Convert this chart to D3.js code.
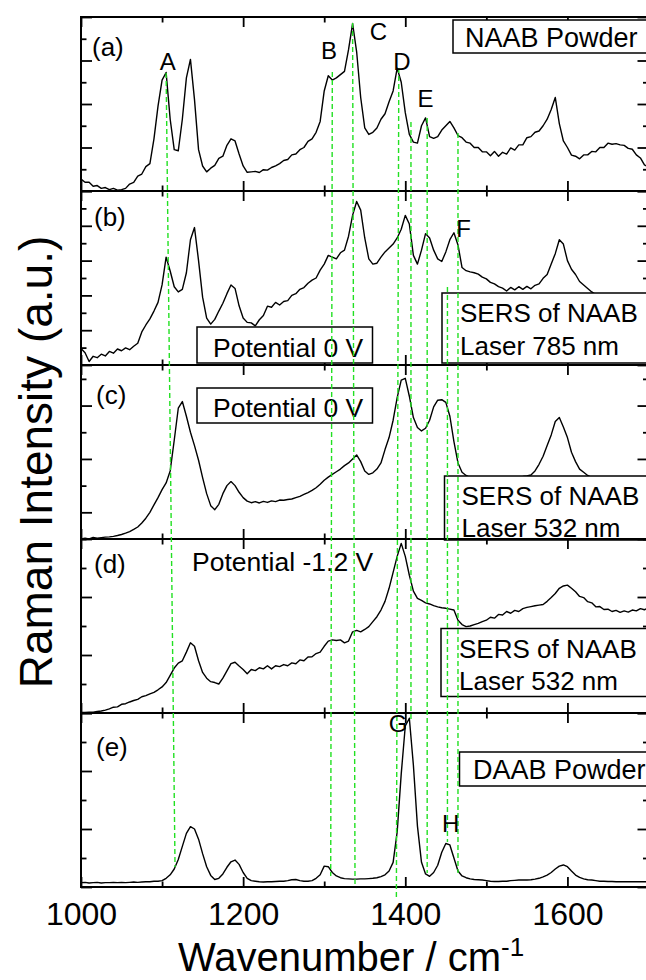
<!DOCTYPE html>
<html>
<head>
<meta charset="utf-8">
<script src="https://d3js.org/d3.v7.min.js"></script>
<style>
  body { margin: 0; background: #fff; }
  svg text { font-family: "Liberation Sans", Arial, Helvetica, sans-serif; fill: #000; }
</style>
</head>
<body>
<div id="chart"></div>
<script>
// wavenumber grid (cm-1), one value every 5 cm-1
var wavenumbers = d3.range(1000, 1701, 5);

// (a) NAAB powder
var naabPowder = [
  0.55, 0.4, 0.4, 0.22, 0.25, 0.12, 0.16, 0.06, 0.12, 0.04,
  0.06, 0.12, 0.32, 0.4, 0.68, 0.78, 1.12, 1.26, 2.4, 3.9,
  5.1, 5.45, 3.3, 1.9, 1.85, 3.3, 5.2, 6.05, 4.2, 1.9,
  1.15, 0.88, 1.05, 1.18, 1.5, 1.6, 2.1, 2.4, 2.3, 1.7,
  1.15, 0.86, 0.88, 0.9, 0.85, 0.98, 0.96, 1.08, 1.16, 1.26,
  1.4, 1.45, 1.66, 1.7, 1.9, 2.0, 2.28, 2.4, 2.7, 3.2,
  4.6, 5.3, 5.1, 5.2, 5.35, 5.5, 6.5, 7.7, 6.4, 4.3,
  2.9, 2.6, 2.7, 2.9, 3.3, 3.55, 4.1, 4.6, 5.65, 5.0,
  3.6, 2.6, 2.25, 2.2, 3.0, 3.36, 2.5, 2.42, 2.5, 2.8,
  3.0, 3.2, 2.9, 2.55, 2.45, 2.25, 2.2, 2.0, 2.0, 1.8,
  1.8, 1.62, 1.82, 1.6, 1.78, 1.7, 1.98, 1.88, 2.12, 2.12,
  2.45, 2.5, 2.7, 2.76, 3.0, 3.3, 3.75, 4.3, 3.1, 2.3,
  2.0, 1.65, 1.6, 1.48, 1.66, 1.66, 1.82, 1.8, 2.0, 2.0,
  2.2, 2.15, 2.18, 2.12, 2.1, 1.96, 1.92, 1.66, 1.52, 1.2,
  1.1
];

// (b) SERS of NAAB, 785 nm, 0 V (recorded up to 1635 cm-1)
var sers785 = [
  0.95, 0.7, 0.2, 0.5, 0.42, 0.62, 0.52, 0.78, 0.68, 0.92,
  0.82, 0.98, 0.88, 1.08, 1.25, 1.9, 2.3, 2.65, 3.1, 3.6,
  4.6, 6.2, 5.4, 4.5, 4.2, 4.35, 5.3, 7.2, 7.9, 6.0,
  3.9, 2.7, 2.35, 2.62, 3.1, 3.55, 4.1, 4.6, 4.4, 3.4,
  2.7, 2.45, 2.42, 2.25, 2.6, 2.85, 3.38, 3.32, 3.6, 3.45,
  3.65, 3.7, 4.0, 4.1, 4.35, 4.45, 4.7, 4.88, 5.0, 5.45,
  5.8, 6.3, 6.2, 6.1, 6.45, 6.6, 7.4, 8.6, 9.4, 8.9,
  7.3, 6.1, 5.8, 5.85, 6.2, 6.5, 6.72, 6.95, 7.3, 7.8,
  8.6, 8.1, 6.3, 5.8, 6.6, 7.55, 7.3, 6.6, 6.1, 5.95,
  6.5, 7.2, 7.6, 6.9, 5.6, 5.42, 5.35, 5.3, 5.22, 5.05,
  4.95, 4.75, 4.66, 4.5, 4.42, 4.25, 4.46, 4.32, 4.5, 4.35,
  4.52, 4.38, 4.58, 4.66, 4.98, 5.2, 5.8, 6.4, 7.2, 6.95,
  6.0, 5.5, 5.2, 4.8, 4.6, 4.4, 4.2, 4.05
];

// (c) SERS of NAAB, 532 nm, 0 V
var sers532ZeroV = [
  1.0, 1.03, 1.0, 1.06, 1.03, 1.05, 1.07, 1.08, 1.1, 1.13,
  1.17, 1.22, 1.28, 1.36, 1.45, 1.6, 1.78, 2.0, 2.28, 2.55,
  2.85, 3.1, 3.55, 4.7, 5.9, 6.15, 5.6, 5.0, 4.5, 3.95,
  3.3, 2.7, 2.25, 2.1, 2.3, 2.7, 3.0, 3.15, 3.0, 2.75,
  2.55, 2.42, 2.36, 2.4, 2.35, 2.41, 2.37, 2.43, 2.4, 2.46,
  2.45, 2.48, 2.5, 2.55, 2.6, 2.67, 2.74, 2.82, 2.92, 3.05,
  3.2, 3.32, 3.42, 3.52, 3.62, 3.75, 3.85, 4.0, 4.15, 3.9,
  3.55, 3.42, 3.48, 3.62, 3.85, 4.35, 4.8, 5.45, 6.3, 6.95,
  7.02, 6.35, 5.55, 5.18, 5.05, 5.15, 5.45, 5.95, 6.2, 6.22,
  6.12, 5.6, 4.65, 3.85, 3.5, 3.38, 3.3, 3.25, 3.2, 3.18,
  3.15, 3.12, 3.1, 3.1, 3.12, 3.15, 3.2, 3.25, 3.3, 3.34,
  3.36, 3.4, 3.55, 3.8, 4.1, 4.5, 4.9, 5.4, 5.55, 5.2,
  4.8, 4.25, 3.9, 3.62, 3.5, 3.38, 3.3, 3.22, 3.18, 3.15,
  3.12, 3.1, 3.08, 3.05, 3.05, 3.02, 3.0, 3.0, 2.98, 2.97,
  2.95
];

// (d) SERS of NAAB, 532 nm, -1.2 V
var sers532MinusV = [
  0.02, 0.02, 0.03, 0.03, 0.05, 0.07, 0.1, 0.14, 0.2, 0.21,
  0.3, 0.32, 0.38, 0.43, 0.47, 0.56, 0.6, 0.66, 0.71, 0.8,
  0.9, 1.05, 1.3, 1.55, 1.72, 1.8, 2.1, 2.42, 2.3, 1.8,
  1.4, 1.2, 1.08, 1.05, 1.0, 1.2, 1.45, 1.7, 1.75, 1.62,
  1.5, 1.35, 1.5, 1.46, 1.56, 1.52, 1.63, 1.52, 1.63, 1.6,
  1.67, 1.63, 1.73, 1.7, 1.83, 1.8, 1.93, 1.94, 2.05, 2.1,
  2.3, 2.48, 2.52, 2.5, 2.52, 2.42, 2.48, 2.8, 2.85, 2.8,
  2.88, 2.98, 3.15, 3.32, 3.55, 3.85, 4.3, 4.85, 5.4, 5.85,
  5.4, 4.75, 4.2, 3.95, 3.88, 3.8, 3.76, 3.7, 3.66, 3.63,
  3.61, 3.58, 3.55, 3.2, 3.05, 2.98, 3.0, 3.05, 3.09, 3.15,
  3.2, 3.3, 3.27, 3.4, 3.38, 3.5, 3.44, 3.54, 3.5, 3.6,
  3.64, 3.67, 3.7, 3.72, 3.74, 3.85, 3.98, 4.12, 4.3, 4.38,
  4.41, 4.3, 4.18, 4.02, 3.98, 3.84, 3.8, 3.66, 3.67, 3.57,
  3.58, 3.5, 3.54, 3.47, 3.52, 3.48, 3.55, 3.52, 3.6, 3.56,
  3.62
];

// (e) DAAB powder
var daabPowder = [
  0.15, 0.16, 0.14, 0.15, 0.16, 0.14, 0.15, 0.15, 0.16, 0.15,
  0.16, 0.15, 0.16, 0.17, 0.16, 0.17, 0.18, 0.18, 0.2, 0.2,
  0.22, 0.3, 0.42, 0.62, 0.95, 1.4, 1.85, 2.08, 2.0, 1.65,
  1.15, 0.7, 0.4, 0.26, 0.3, 0.45, 0.68, 0.87, 0.93, 0.78,
  0.5, 0.3, 0.22, 0.2, 0.18, 0.17, 0.18, 0.18, 0.19, 0.2,
  0.2, 0.22, 0.25, 0.26, 0.22, 0.2, 0.2, 0.22, 0.3, 0.42,
  0.72, 0.7, 0.5, 0.38, 0.32, 0.29, 0.28, 0.27, 0.27, 0.28,
  0.28, 0.29, 0.3, 0.32, 0.36, 0.42, 0.55, 0.85, 1.9, 3.9,
  5.55, 5.82, 4.2, 2.1, 0.85, 0.45, 0.37, 0.5, 0.75, 1.2,
  1.5, 1.45, 1.0, 0.55, 0.38, 0.32, 0.28, 0.26, 0.25, 0.24,
  0.22, 0.2, 0.19, 0.19, 0.2, 0.2, 0.22, 0.23, 0.24, 0.24,
  0.24, 0.25, 0.27, 0.3, 0.35, 0.41, 0.5, 0.62, 0.72, 0.76,
  0.7, 0.55, 0.41, 0.33, 0.28, 0.25, 0.24, 0.22, 0.2, 0.2,
  0.19, 0.19, 0.18, 0.18, 0.18, 0.18, 0.18, 0.18, 0.18, 0.18,
  0.18
];

var panelSeries = [naabPowder, sers785, sers532ZeroV, sers532MinusV, daabPowder];
var panelTags = ["(a)", "(b)", "(c)", "(d)", "(e)"];
var panelYDomains = [[0, 8], [0, 10], [1, 7.52], [0, 6], [0, 6]];
var xTickLabels = [1000, 1200, 1400, 1600];
var xMinorTicks = [1100, 1300, 1500, 1700];

// peak letters: wavenumber and height in the stack (0 = bottom of (e), 5 = top of (a))
var peakNames = ["A", "B", "C", "D", "E", "F", "G", "H"];
var peakLabelWn = [1107, 1306, 1367, 1396, 1425, 1472, 1391, 1456];
var peakLabelLevel = [4.695, 4.759, 4.868, 4.695, 4.483, 3.736, 0.891, 0.316];

// green dashed guide lines
var guideTopWn = [1105, 1310, 1335, 1392, 1407, 1427, 1452, 1465];
var guideBottomWn = [1116, 1308, 1338, 1389, 1407, 1427, 1452, 1465];
var guideTopLevel = [4.678, 4.684, 4.966, 4.707, 4.397, 4.42, 3.448, 4.333];
var guideBottomLevel = [0.115, 0.063, 0, -0.075, 0.96, 0.08, 0.259, 0.08];

var width = 646, height = 980;
var plotLeft = 81, plotRight = 648.5, plotTop = 17, panelHeight = 174;

var svg = d3
  .select("#chart")
  .append("svg")
  .attr("width", width)
  .attr("height", height);

var x = d3.scaleLinear().domain([1000, 1700]).range([plotLeft, plotRight]);
var level = d3
  .scaleLinear()
  .domain([0, 5])
  .range([plotTop + 5 * panelHeight, plotTop]);

// boxed notes inside panels
var boxes = [
  { x: 453, y: 20, w: 200, h: 33, tx: 465, ty: [47], size: 27, lines: ["NAAB Powder"] },
  { x: 197, y: 327, w: 175.5, h: 36, tx: 213, ty: [357], size: 26.5, lines: ["Potential 0 V"] },
  { x: 442, y: 293, w: 215, h: 70, tx: 460, ty: [321.5, 355], size: 26, lines: ["SERS of NAAB", "Laser 785 nm"] },
  { x: 197, y: 388, w: 175.5, h: 35, tx: 213, ty: [416.5], size: 26.5, lines: ["Potential 0 V"] },
  { x: 444.5, y: 476, w: 215, h: 64, tx: 461.5, ty: [505, 537], size: 26, lines: ["SERS of NAAB", "Laser 532 nm"] },
  { x: 441, y: 628.5, w: 215, h: 68, tx: 459, ty: [658, 690], size: 26, lines: ["SERS of NAAB", "Laser 532 nm"] },
  { x: 459.5, y: 752, w: 200, h: 34, tx: 473, ty: [779], size: 27, lines: ["DAAB Powder"] }
];
var tagBaselines = [56, 226, 404, 573, 756];
var tagX = [92, 94, 96, 94, 96];

function dropDomain(g) {
  g.select(".domain").remove();
  g.selectAll(".tick line").attr("stroke", "#000").attr("stroke-width", 1.8);
}

panelSeries.forEach(function (series, i) {
  var top = plotTop + i * panelHeight;
  var bottom = top + panelHeight;
  var y = d3.scaleLinear().domain(panelYDomains[i]).range([bottom, top]);
  var g = svg.append("g");

  g.append("clipPath")
    .attr("id", "clip" + i)
    .append("rect")
    .attr("x", plotLeft)
    .attr("y", top)
    .attr("width", plotRight - plotLeft)
    .attr("height", panelHeight);

  var line = d3
    .line()
    .x(function (d, j) { return x(wavenumbers[j]); })
    .y(function (d) { return y(d); });

  g.append("path")
    .datum(series)
    .attr("clip-path", "url(#clip" + i + ")")
    .attr("d", line)
    .attr("fill", "none")
    .attr("stroke", "#000")
    .attr("stroke-width", 1.4)
    .attr("stroke-linejoin", "round");

  // y ticks, every unit; even units long
  var yMajor = [], yMinor = [];
  var dom = panelYDomains[i];
  for (var v = Math.ceil(dom[0]); v <= Math.floor(dom[1]); v++) {
    if (v % 2 === 0) yMajor.push(v); else yMinor.push(v);
  }
  g.append("g")
    .attr("transform", "translate(" + plotLeft + ",0)")
    .call(d3.axisRight(y).tickValues(yMajor).tickSize(11).tickSizeOuter(0).tickFormat(""))
    .call(dropDomain);
  g.append("g")
    .attr("transform", "translate(" + plotLeft + ",0)")
    .call(d3.axisRight(y).tickValues(yMinor).tickSize(5.5).tickSizeOuter(0).tickFormat(""))
    .call(dropDomain);
  g.append("g")
    .attr("transform", "translate(" + plotRight + ",0)")
    .call(d3.axisLeft(y).tickValues(yMajor).tickSize(11).tickSizeOuter(0).tickFormat(""))
    .call(dropDomain);
  g.append("g")
    .attr("transform", "translate(" + plotRight + ",0)")
    .call(d3.axisLeft(y).tickValues(yMinor).tickSize(5.5).tickSizeOuter(0).tickFormat(""))
    .call(dropDomain);

  // x ticks on top and bottom edges, pointing inward
  g.append("g")
    .attr("transform", "translate(0," + bottom + ")")
    .call(d3.axisTop(x).tickValues(xTickLabels).tickSize(10).tickSizeOuter(0).tickFormat(""))
    .call(dropDomain);
  g.append("g")
    .attr("transform", "translate(0," + bottom + ")")
    .call(d3.axisTop(x).tickValues(xMinorTicks).tickSize(5.5).tickSizeOuter(0).tickFormat(""))
    .call(dropDomain);
  g.append("g")
    .attr("transform", "translate(0," + top + ")")
    .call(d3.axisBottom(x).tickValues(xTickLabels).tickSize(10).tickSizeOuter(0).tickFormat(""))
    .call(dropDomain);
  g.append("g")
    .attr("transform", "translate(0," + top + ")")
    .call(d3.axisBottom(x).tickValues(xMinorTicks).tickSize(5.5).tickSizeOuter(0).tickFormat(""))
    .call(dropDomain);

  g.append("text")
    .attr("x", tagX[i])
    .attr("y", tagBaselines[i])
    .style("font-size", "26px")
    .text(panelTags[i]);
});

// notes
boxes.forEach(function (b) {
  svg.append("rect")
    .attr("x", b.x)
    .attr("y", b.y)
    .attr("width", b.w)
    .attr("height", b.h)
    .attr("fill", "#fff")
    .attr("stroke", "#000")
    .attr("stroke-width", 1.5);
  b.lines.forEach(function (t, k) {
    svg.append("text")
      .attr("x", b.tx)
      .attr("y", b.ty[k])
      .style("font-size", b.size + "px")
      .text(t);
  });
});

svg.append("text")
  .attr("x", 192)
  .attr("y", 571)
  .style("font-size", "26.5px")
  .text("Potential -1.2 V");

// panel frames
panelSeries.forEach(function (s, i) {
  svg.append("rect")
    .attr("x", plotLeft)
    .attr("y", plotTop + i * panelHeight)
    .attr("width", plotRight - plotLeft)
    .attr("height", panelHeight)
    .attr("fill", "none")
    .attr("stroke", "#000")
    .attr("stroke-width", 2);
});

// dashed guides
svg.append("g")
  .selectAll("line")
  .data(guideTopWn)
  .enter()
  .append("line")
  .attr("x1", function (d) { return x(d); })
  .attr("y1", function (d, k) { return level(guideTopLevel[k]); })
  .attr("x2", function (d, k) { return x(guideBottomWn[k]); })
  .attr("y2", function (d, k) { return level(guideBottomLevel[k]); })
  .attr("stroke", "#22e022")
  .attr("stroke-width", 1.4)
  .attr("stroke-dasharray", "5,3");

// peak letters
svg.append("g")
  .selectAll("text")
  .data(peakNames)
  .enter()
  .append("text")
  .attr("x", function (d, k) { return x(peakLabelWn[k]); })
  .attr("y", function (d, k) { return level(peakLabelLevel[k]); })
  .attr("text-anchor", "middle")
  .style("font-size", "24px")
  .text(function (d) { return d; });

// bottom axis labels
var bottomAxis = svg.append("g")
  .attr("transform", "translate(0," + (plotTop + 5 * panelHeight) + ")")
  .call(d3.axisBottom(x).tickValues(xTickLabels).tickSize(0).tickFormat(d3.format("d")));
bottomAxis.select(".domain").remove();
bottomAxis.selectAll("text")
  .attr("y", 38)
  .attr("dy", null)
  .attr("fill", "#000")
  .style("font-size", "32px")
  .style("font-family", '"Liberation Sans", Arial, sans-serif');

var xLabel = svg.append("text")
  .attr("x", 178)
  .attr("y", 971)
  .style("font-size", "40px");
xLabel.append("tspan").text("Wavenumber / cm");
xLabel.append("tspan").attr("dy", -15).style("font-size", "26px").text("-1");

svg.append("text")
  .attr("transform", "translate(52,462) rotate(-90)")
  .attr("text-anchor", "middle")
  .style("font-size", "46px")
  .text("Raman Intensity (a.u.)");
</script>
</body>
</html>
